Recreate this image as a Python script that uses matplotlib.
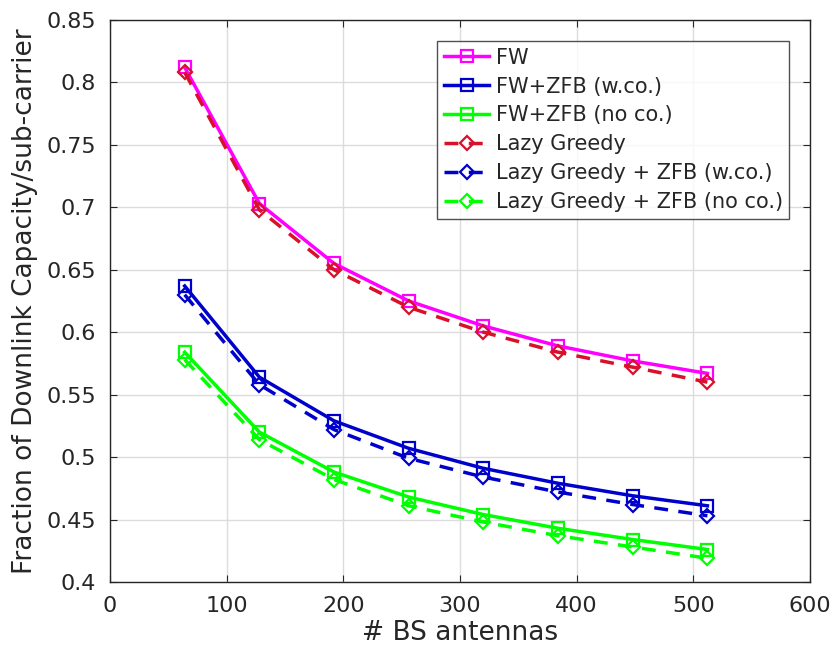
import matplotlib
matplotlib.use("Agg")
import matplotlib.pyplot as plt

antennas = [64, 128, 192, 256, 320, 384, 448, 512]

fw = [0.812, 0.703, 0.655, 0.625, 0.605, 0.589, 0.577, 0.567]
fw_zfb_wco = [0.637, 0.564, 0.529, 0.507, 0.491, 0.479, 0.469, 0.461]
fw_zfb_noco = [0.584, 0.520, 0.488, 0.468, 0.454, 0.443, 0.434, 0.426]
lazy = [0.808, 0.698, 0.650, 0.620, 0.600, 0.584, 0.572, 0.560]
lazy_zfb_wco = [0.630, 0.558, 0.522, 0.499, 0.484, 0.472, 0.462, 0.453]
lazy_zfb_noco = [0.578, 0.514, 0.482, 0.461, 0.448, 0.437, 0.428, 0.419]

labels = ["FW", "FW+ZFB (w.co.)", "FW+ZFB (no co.)", "Lazy Greedy",
          "Lazy Greedy + ZFB (w.co.)", "Lazy Greedy + ZFB (no co.)"]

x_ticks = [0, 100, 200, 300, 400, 500, 600]
y_ticks = [0.4, 0.45, 0.5, 0.55, 0.6, 0.65, 0.7, 0.75, 0.8, 0.85]
y_tick_labels = ["0.4", "0.45", "0.5", "0.55", "0.6", "0.65", "0.7", "0.75", "0.8", "0.85"]

plt.rcParams["font.family"] = ["DejaVu Sans"]

fig = plt.figure(figsize=(8.36, 6.52), dpi=100)
ax = fig.add_axes([0.1316, 0.1074, 0.8374, 0.8620])

magenta = "#ff00ff"
blue = "#0000cc"
green = "#00ff00"
red = "#d9102a"

solid_kw = dict(linestyle="-", linewidth=2.5, marker="s", markersize=8,
                markerfacecolor="none", markeredgewidth=1.6)
dash_kw = dict(linestyle="--", linewidth=2.5, marker="D", markersize=7,
               markerfacecolor="none", markeredgewidth=1.6, dashes=(4, 3))

ax.plot(antennas, fw, color=magenta, label=labels[0], **solid_kw)
ax.plot(antennas, fw_zfb_wco, color=blue, label=labels[1], **solid_kw)
ax.plot(antennas, fw_zfb_noco, color=green, label=labels[2], **solid_kw)
ax.plot(antennas, lazy, color=red, label=labels[3], **dash_kw)
ax.plot(antennas, lazy_zfb_wco, color=blue, label=labels[4], **dash_kw)
ax.plot(antennas, lazy_zfb_noco, color=green, label=labels[5], **dash_kw)

ax.set_xlim(0, 600)
ax.set_ylim(0.4, 0.85)
ax.set_xticks(x_ticks)
ax.set_yticks(y_ticks)
ax.set_yticklabels(y_tick_labels)
ax.tick_params(direction="in", top=True, right=True, labelsize=16,
               colors="#262626", length=5, width=0.8)
ax.tick_params(axis="y", pad=10)
ax.tick_params(axis="x", pad=10)
ax.grid(True, color="#dcdcdc", linewidth=1.0)
ax.set_axisbelow(True)
for s in ax.spines.values():
    s.set_color("#262626")
    s.set_linewidth(1.0)

ax.set_xlabel("# BS antennas", fontsize=19, color="#262626", labelpad=3)
ax.set_ylabel("Fraction of Downlink Capacity/sub-carrier", fontsize=19,
              color="#262626", labelpad=6)

leg = ax.legend(loc="upper right", bbox_to_anchor=(0.97, 0.962), fontsize=15,
                frameon=True, fancybox=False, edgecolor="#262626",
                handlelength=2.2, handletextpad=0.3, borderpad=0.3,
                labelspacing=0.43, borderaxespad=0.0)
leg.get_frame().set_linewidth(1.0)
for t in leg.get_texts():
    t.set_color("#262626")

fig.savefig("out.png", dpi=100)
